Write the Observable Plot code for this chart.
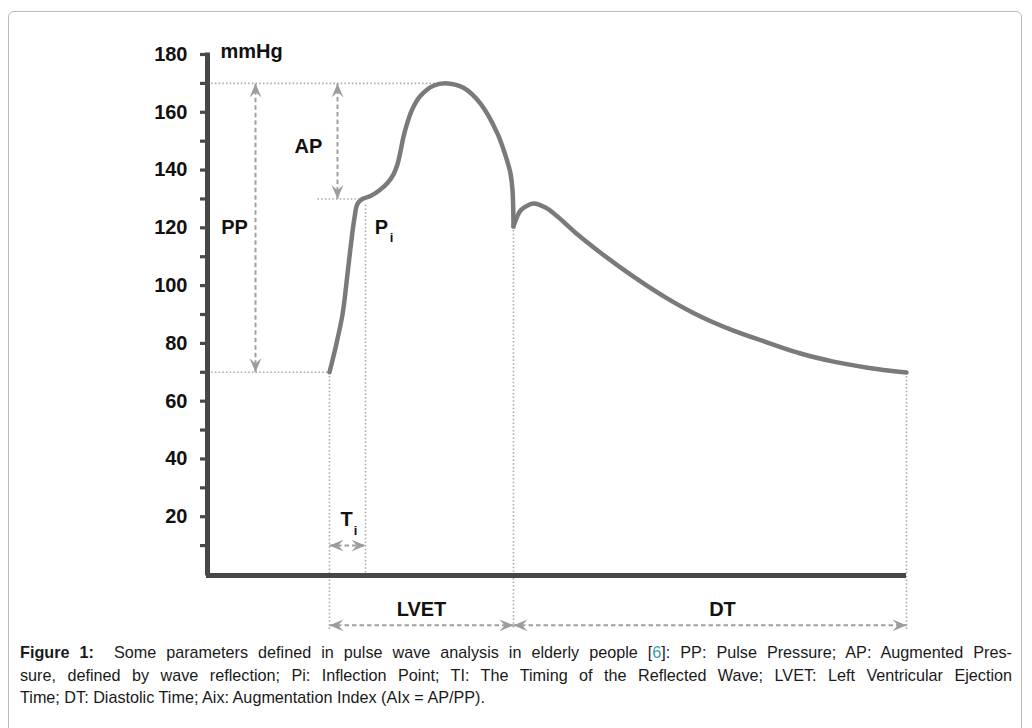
<!DOCTYPE html>
<html><head><meta charset="utf-8">
<script src="https://cdn.jsdelivr.net/npm/d3@7"></script>
<script src="https://cdn.jsdelivr.net/npm/@observablehq/plot@0.6"></script>
<style>
body{margin:0;background:#fff;width:1032px;height:728px;overflow:hidden;position:relative;font-family:"Liberation Sans",Arial,sans-serif;}
#frame{position:absolute;left:8px;top:11px;width:1012px;height:760px;border:1.5px solid #b9b9b9;border-radius:6px;}
#chart{position:absolute;left:0;top:0;}
#caption{position:absolute;left:20px;top:641px;width:992px;font-size:16.2px;line-height:22.5px;color:#1a1a1a;}
#caption .j{text-align:justify;text-align-last:justify;}
#caption .ref{color:#3a9bb0;}
</style></head>
<body>
<div id="frame"></div>
<div id="chart"></div>
<div id="caption">
<div class="j"><b>Figure 1:</b>&nbsp; Some parameters defined in pulse wave analysis in elderly people [<span class="ref">6</span>]: PP: Pulse Pressure; AP: Augmented Pres-</div>
<div class="j">sure, defined by wave reflection; Pi: Inflection Point; TI: The Timing of the Reflected Wave; LVET: Left Ventricular Ejection</div>
<div>Time; DT: Diastolic Time; Aix: Augmentation Index (AIx = AP/PP).</div>
</div>
<script>
// Pulse wave (time in ms-like units, pressure in mmHg); phase splits at the dicrotic notch
const waveTime = [122,129,135,139,143,147,150,155,163,172,180,186,190,193,196,200,205,213,226,240,256,273,290,298,303,305,306,
                  306,313,320,326,338,350,368,393,426,460,493,526,560,593,626,660,699];
const wavePressure = [70,80,90,101,113,123.5,128.3,130,131,133,135.5,138.5,142,146.5,151.5,156.5,161.2,165.7,169.2,170,168.5,163,152.6,145,138.8,133,120.5,
                      120.5,126,127.7,128.4,127,123.9,118.3,111.4,103.1,95.5,89.3,84.4,80.3,76.5,73.7,71.6,69.9];
const wavePhase = [...Array(27).fill("systole"), ...Array(17).fill("diastole")];

// Y axis ticks
const yTicks = [10,20,30,40,50,60,70,80,90,100,110,120,130,140,150,160,170,180];
const yLabeled = [20,40,60,80,100,120,140,160,180];

// Dotted reference lines
const refT1 = [0, 0, 110, 122, 158, 306, 699];
const refT2 = [240, 122, 153, 122, 158, 306, 699];
const refV1 = [170, 70, 130, 70, 128, 120.5, 70];
const refV2 = [170, 70, 130, -19, 0, -19, -19];

// Double-headed dashed arrows
const arrowName = ["PP","AP","Ti","LVET","DT"];
const arrowT1 = [48, 130, 122, 122, 306];
const arrowT2 = [48, 130, 158, 306, 699];
const arrowV1 = [70, 130, 10, -17.6, -17.6];
const arrowV2 = [170, 170, 10, -17.6, -17.6];

// Labels
const unitText = "mmHg", unitT = 13, unitV = 181;
const labelText = ["AP","PP","P","T","LVET","DT"];
const labelT = [101, 27, 174, 139, 214, 515];
const labelV = [148, 120, 120, 19, -12, -12];
const subText = ["i","i"];
const subT = [184, 148];
const subV = [116.5, 15];

const wave = waveTime.map((t,i)=>({t, v: wavePressure[i], phase: wavePhase[i]}));
const refs = refT1.map((t,i)=>({t1:t, t2:refT2[i], v1:refV1[i], v2:refV2[i]}));
const arrows = arrowName.map((n,i)=>({n, t1:arrowT1[i], t2:arrowT2[i], v1:arrowV1[i], v2:arrowV2[i]}));
const heads = arrows.flatMap(a => a.t1 === a.t2
    ? [{t:a.t1, v:a.v1, rot:180}, {t:a.t2, v:a.v2, rot:0}]
    : [{t:a.t1, v:a.v1, rot:-90}, {t:a.t2, v:a.v2, rot:90}]);
const labels = labelText.map((s,i)=>({s, t:labelT[i], v:labelV[i]}));
const subs = subText.map((s,i)=>({s, t:subT[i], v:subV[i]}));

// Notched arrowhead symbol, tip at origin pointing up
const arrowHead = {
  draw(ctx, size) {
    const r = Math.sqrt(size / Math.PI);
    const L = 2 * r, w = 0.85 * r;
    ctx.moveTo(0, 0);
    ctx.lineTo(w, L);
    ctx.lineTo(0, L * 0.62);
    ctx.lineTo(-w, L);
    ctx.closePath();
  }
};

const H = 640;
const chart = Plot.plot({
  width: 1032, height: H,
  marginLeft: 207, marginRight: 125, marginTop: 54, marginBottom: H - 574,
  x: {domain: [0, 700], axis: null},
  y: {domain: [0, 180], axis: null},
  style: {fontFamily: "'Liberation Sans', Arial, sans-serif", fontSize: "20px", fontWeight: "bold", color: "#111", background: "transparent", overflow: "visible"},
  marks: [
    Plot.link(refs, {x1:"t1", x2:"t2", y1:"v1", y2:"v2", stroke:"#a9a9a9", strokeWidth:1.6, strokeDasharray:"1.5,2.2"}),
    Plot.link(arrows, {x1:"t1", x2:"t2", y1:"v1", y2:"v2", stroke:"#a0a0a0", strokeWidth:2, strokeDasharray:"4.5,3"}),
    Plot.dot(heads, {x:"t", y:"v", rotate:"rot", symbol: arrowHead, r: 7, fill:"#9c9c9c", stroke:"none"}),
    Plot.line(wave, {x:"t", y:"v", z:"phase", stroke:"#7a7a7a", strokeWidth:4.5, curve:"catmull-rom", strokeLinecap:"round", strokeLinejoin:"round"}),
    Plot.axisY({ticks: yTicks, tickSize: 7, tickPadding: 13, stroke:"#4a4a4a", strokeWidth: 3.2,
      tickFormat: d => yLabeled.includes(d) ? String(d) : "", fontSize: 20, fontWeight: "bold", fill:"#111", label: null}),
    Plot.ruleX([0], {y1: -0.5, y2: 180.5, stroke:"#474747", strokeWidth:5}),
    Plot.ruleY([0], {x1: -1, x2: 699, y: 0, dy: 1, stroke:"#474747", strokeWidth:5}),
    Plot.text([unitText], {x: unitT, y: unitV, text: d => d, textAnchor:"start", fontSize:20, fontWeight:"bold", fill:"#111"}),
    Plot.text(labels, {x:"t", y:"v", text:"s", fontSize:20, fontWeight:"bold", fill:"#111"}),
    Plot.text(subs, {x:"t", y:"v", text:"s", fontSize:13, fontWeight:"bold", fill:"#111"})
  ]
});
document.getElementById("chart").appendChild(chart);
</script>
</body></html>
